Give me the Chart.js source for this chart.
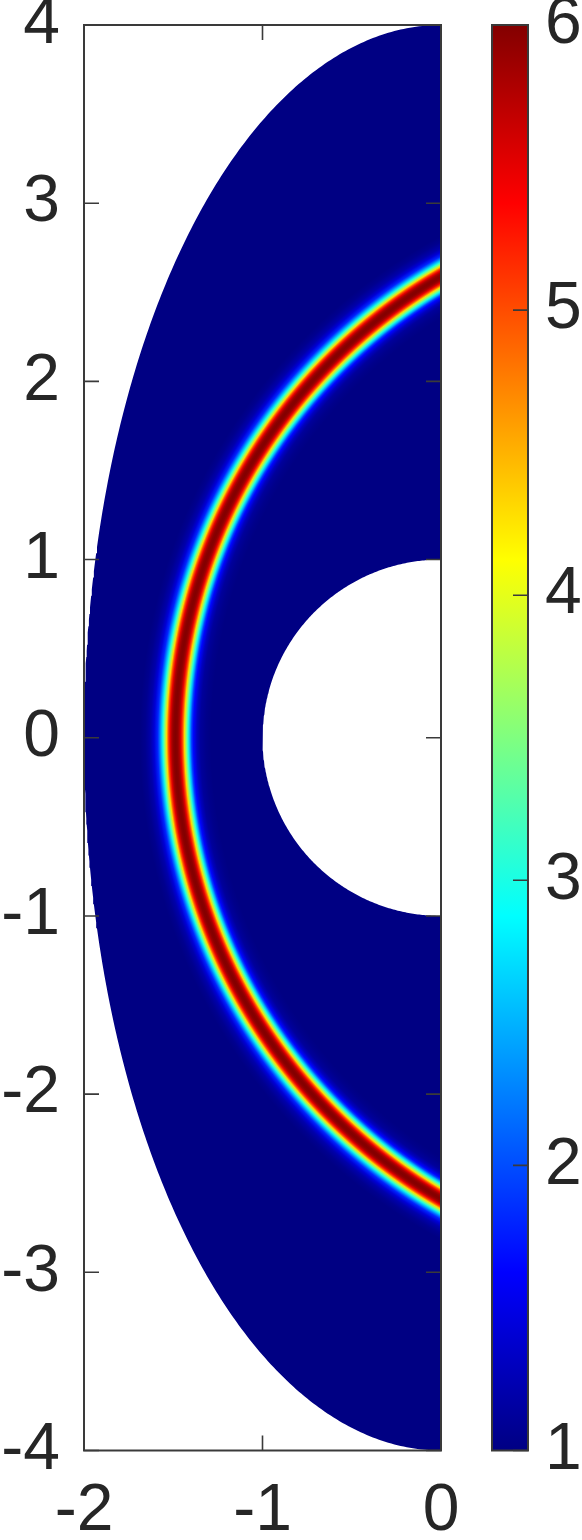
<!DOCTYPE html>
<html>
<head>
<meta charset="utf-8">
<script src="https://cdn.jsdelivr.net/npm/chart.js@4.4.1/dist/chart.umd.min.js"></script>
<style>
  html, body { margin: 0; padding: 0; background: #fff; }
  #wrap { position: relative; width: 582px; height: 1540px; }
  #field { position: absolute; left: 0; top: 0; }
  #bar { position: absolute; left: 470px; top: 0; }
</style>
</head>
<body>
<div id="wrap">
  <canvas id="field" width="470" height="1540"></canvas>
  <canvas id="bar" width="112" height="1540"></canvas>
</div>
<script>
const xRange = [-2, 0];
const yRange = [-4, 4];
const valueRange = [1, 6];
const cbarTicks = [1, 2, 3, 4, 5, 6];

// domain: left half of the ellipse x^2/4 + y^2/16 <= 1, unit half disc removed
const outerAxes = [2, 4];
const innerRadius = 1;

// ring: circle round (1.5, 0); value across it (offset from the ring radius)
const ringCenter = [1.5, 0];
const ringRadius = 2.99;
const ringOffset = [-0.2, -0.17, -0.14, -0.12, -0.10, -0.09, -0.08, -0.07, -0.06, -0.05, -0.04, -0.03, -0.02, -0.01, 0,
  0.01, 0.02, 0.03, 0.04, 0.05, 0.06, 0.07, 0.08, 0.09, 0.10, 0.12, 0.14, 0.17, 0.2];
const ringValue = [1.0, 1.04, 1.12, 1.3, 1.65, 1.95, 2.5, 3.05, 3.6, 4.3, 5.0, 5.5, 5.82, 5.96, 6.0,
  5.96, 5.82, 5.5, 5.0, 4.3, 3.6, 3.05, 2.55, 2.15, 1.8, 1.42, 1.2, 1.06, 1.0];

const jetStops = [0, 0.125, 0.375, 0.625, 0.875, 1];
const jetRGB = [[0, 0, 131], [0, 0, 255], [0, 255, 255], [255, 255, 0], [255, 0, 0], [131, 0, 0]];

const TEXT = '#262626';
const EDGE = '#3a3a3a';
const TICK_LEN = 15;

Chart.defaults.font.family = '"Liberation Sans", Arial, Helvetica, sans-serif';
Chart.defaults.font.size = 66;
Chart.defaults.color = TEXT;

function jet(v) {
  const t = Math.min(1, Math.max(0, (v - valueRange[0]) / (valueRange[1] - valueRange[0])));
  let i = 0;
  while (i < jetStops.length - 2 && t > jetStops[i + 1]) i++;
  const f = (t - jetStops[i]) / (jetStops[i + 1] - jetStops[i]);
  const c = jetRGB[i].map((a, k) => Math.round(a + (jetRGB[i + 1][k] - a) * f));
  return 'rgb(' + c[0] + ',' + c[1] + ',' + c[2] + ')';
}

function domainPath() {
  const pts = [];
  const n = 360;
  for (let i = 0; i <= n; i++) {
    const a = -Math.PI / 2 + Math.PI * i / n;
    pts.push({ x: -outerAxes[0] * Math.cos(a), y: outerAxes[1] * Math.sin(a) });
  }
  for (let i = 0; i <= n; i++) {
    const a = Math.PI / 2 - Math.PI * i / n;
    pts.push({ x: -innerRadius * Math.cos(a), y: innerRadius * Math.sin(a) });
  }
  return pts;
}

function ringPath() {
  const pts = [];
  const n = 400;
  const rOut = ringRadius + ringOffset[ringOffset.length - 1];
  const rIn = ringRadius + ringOffset[0];
  const a0 = 100 * Math.PI / 180, a1 = 260 * Math.PI / 180;
  for (let i = 0; i <= n; i++) {
    const a = a0 + (a1 - a0) * i / n;
    pts.push({ x: ringCenter[0] + rOut * Math.cos(a), y: ringCenter[1] + rOut * Math.sin(a) });
  }
  for (let i = 0; i <= n; i++) {
    const a = a1 - (a1 - a0) * i / n;
    pts.push({ x: ringCenter[0] + rIn * Math.cos(a), y: ringCenter[1] + rIn * Math.sin(a) });
  }
  return pts;
}

function ringFill(c) {
  const chart = c.chart;
  const sx = chart.scales.x, sy = chart.scales.y;
  if (!sx || !sy || !chart.chartArea) return jet(valueRange[0]);
  const cx = sx.getPixelForValue(ringCenter[0]);
  const cy = sy.getPixelForValue(ringCenter[1]);
  const pxPerUnit = ((sx.getPixelForValue(1) - sx.getPixelForValue(0)) + (sy.getPixelForValue(0) - sy.getPixelForValue(1))) / 2;
  const d0 = ringOffset[0], d1 = ringOffset[ringOffset.length - 1];
  const g = chart.ctx.createRadialGradient(cx, cy, (ringRadius + d0) * pxPerUnit, cx, cy, (ringRadius + d1) * pxPerUnit);
  ringOffset.forEach((d, i) => g.addColorStop((d - d0) / (d1 - d0), jet(ringValue[i])));
  return g;
}

function noPad(s) {
  s.paddingTop = 0; s.paddingBottom = 0; s.paddingLeft = 0; s.paddingRight = 0;
}

function inwardTicks(chart, ids, bothSides) {
  const { ctx, chartArea: a } = chart;
  ctx.save();
  ctx.strokeStyle = EDGE;
  ctx.lineWidth = 1.6;
  ctx.beginPath();
  for (const id of ids) {
    const s = chart.scales[id];
    for (const t of s.ticks) {
      const p = s.getPixelForValue(t.value);
      if (s.isHorizontal()) {
        ctx.moveTo(p, a.bottom); ctx.lineTo(p, a.bottom - TICK_LEN);
        ctx.moveTo(p, a.top); ctx.lineTo(p, a.top + TICK_LEN);
      } else {
        if (bothSides) { ctx.moveTo(a.left, p); ctx.lineTo(a.left + TICK_LEN, p); }
        ctx.moveTo(a.right, p); ctx.lineTo(a.right - TICK_LEN, p);
      }
    }
  }
  ctx.stroke();
  ctx.lineWidth = 2;
  ctx.strokeRect(a.left, a.top, a.right - a.left, a.bottom - a.top);
  ctx.restore();
}

const fieldFrame = { id: 'fieldFrame', afterDraw(chart) { inwardTicks(chart, ['x', 'y'], true); } };
const barFrame = { id: 'barFrame', afterDraw(chart) { inwardTicks(chart, ['y'], false); } };

new Chart(document.getElementById('field'), {
  type: 'line',
  data: {
    datasets: [
      {
        label: 'ring',
        data: ringPath(),
        indexAxis: 'y',
        fill: 'shape',
        backgroundColor: ringFill,
        borderWidth: 0,
        borderColor: 'rgba(0,0,0,0)',
        pointRadius: 0,
        order: 0
      },
      {
        label: 'domain',
        data: domainPath(),
        indexAxis: 'y',
        fill: 'shape',
        backgroundColor: jet(valueRange[0]),
        borderWidth: 0,
        borderColor: 'rgba(0,0,0,0)',
        pointRadius: 0,
        order: 1
      }
    ]
  },
  options: {
    responsive: false,
    animation: false,
    events: [],
    devicePixelRatio: 1,
    layout: { autoPadding: false, padding: { left: 0, top: 25, right: 29, bottom: 0 } },
    plugins: { legend: { display: false }, tooltip: { enabled: false } },
    scales: {
      x: {
        type: 'linear', min: xRange[0], max: xRange[1],
        grid: { display: false, drawTicks: false },
        border: { display: false },
        ticks: { stepSize: 1, padding: 22, maxRotation: 0 },
        afterFit(s) { s.height = 89.5; noPad(s); }
      },
      y: {
        type: 'linear', min: yRange[0], max: yRange[1],
        grid: { display: false, drawTicks: false },
        border: { display: false },
        ticks: { stepSize: 1, padding: 24 },
        afterFit(s) { s.width = 84; noPad(s); }
      }
    }
  },
  plugins: [fieldFrame]
});

new Chart(document.getElementById('bar'), {
  type: 'bar',
  data: {
    labels: [''],
    datasets: [{
      data: [[valueRange[0], valueRange[1]]],
      backgroundColor(c) {
        const chart = c.chart;
        const s = chart.scales.y;
        if (!s || !chart.chartArea) return jet(valueRange[0]);
        const g = chart.ctx.createLinearGradient(0, s.getPixelForValue(valueRange[0]), 0, s.getPixelForValue(valueRange[1]));
        jetStops.forEach((t, i) => g.addColorStop(t, 'rgb(' + jetRGB[i].join(',') + ')'));
        return g;
      },
      borderWidth: 0,
      barPercentage: 1,
      categoryPercentage: 1
    }]
  },
  options: {
    responsive: false,
    animation: false,
    events: [],
    devicePixelRatio: 1,
    layout: { autoPadding: false, padding: { left: 22, top: 25, right: 0, bottom: 89.5 } },
    plugins: { legend: { display: false }, tooltip: { enabled: false } },
    scales: {
      x: { display: false },
      y: {
        position: 'right',
        min: valueRange[0], max: valueRange[1],
        grid: { display: false, drawTicks: false },
        border: { display: false },
        afterBuildTicks(s) { s.ticks = cbarTicks.map(v => ({ value: v })); },
        ticks: { padding: 17 },
        afterFit(s) { s.width = 54; noPad(s); }
      }
    }
  },
  plugins: [barFrame]
});
</script>
</body>
</html>
